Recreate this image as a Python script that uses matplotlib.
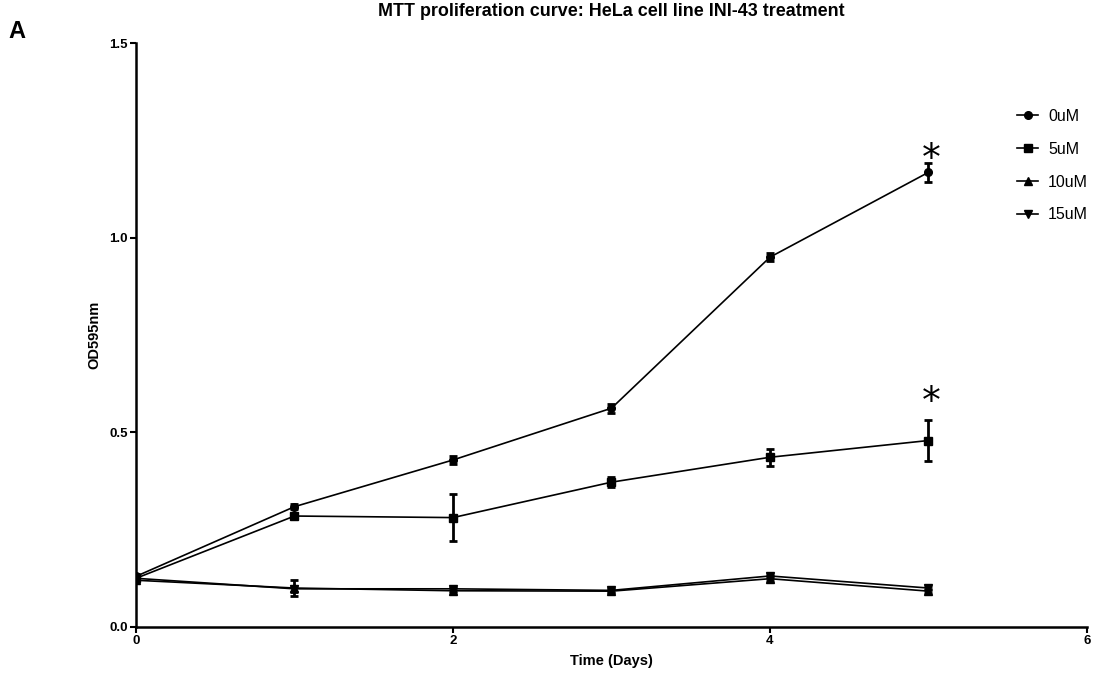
import matplotlib
matplotlib.use("Agg")
import matplotlib.pyplot as plt
from matplotlib.lines import Line2D

plt.rcParams['font.family'] = ['Liberation Sans', 'DejaVu Sans']

days = [0, 1, 2, 3, 4, 5]
labels = ["0uM", "5uM", "10uM", "15uM"]
markers = ["o", "s", "^", "v"]
od_0uM = [0.130, 0.309, 0.429, 0.562, 0.950, 1.168]
err_0uM = [0.005, 0.006, 0.010, 0.012, 0.010, 0.024]
od_5uM = [0.125, 0.285, 0.281, 0.372, 0.436, 0.479]
err_5uM = [0.005, 0.006, 0.060, 0.012, 0.022, 0.053]
od_10uM = [0.120, 0.100, 0.093, 0.092, 0.124, 0.092]
err_10uM = [0.004, 0.020, 0.006, 0.005, 0.006, 0.006]
od_15uM = [0.125, 0.098, 0.098, 0.094, 0.131, 0.100]
err_15uM = [0.004, 0.008, 0.005, 0.005, 0.006, 0.006]
star_points = [(5.02, 1.20), (5.02, 0.576)]

series = [od_0uM, od_5uM, od_10uM, od_15uM]
errs = [err_0uM, err_5uM, err_10uM, err_15uM]

fig = plt.figure(figsize=(10.94, 6.73), dpi=100)
ax = fig.add_axes([0.1243, 0.0684, 0.9936 - 0.1243, 0.936 - 0.0684])

handles = []
for y, e, m, lab in zip(series, errs, markers, labels):
    ax.errorbar(days, y, yerr=e, color='black', marker=m, markersize=5.5,
                linewidth=1.2, elinewidth=2, capsize=3, capthick=2)
    handles.append(Line2D([], [], color='black', marker=m, markersize=5.5,
                          linewidth=1.2, label=lab))

for sx, sy in star_points:
    ax.text(sx, sy, "*", fontsize=27, ha='center', va='center', family='DejaVu Sans')

ax.set_xlim(0, 6)
ax.set_ylim(0, 1.5)
ax.set_xticks([0, 2, 4, 6])
ax.set_yticks([0, 0.5, 1.0, 1.5])
ax.set_yticklabels(["0.0", "0.5", "1.0", "1.5"])
for s in ['top', 'right']:
    ax.spines[s].set_visible(False)
for s in ['left', 'bottom']:
    ax.spines[s].set_linewidth(1.8)
ax.tick_params(axis='both', length=4, width=1.5, labelsize=9.5, pad=2)
for t in ax.get_xticklabels() + ax.get_yticklabels():
    t.set_fontweight('bold')

fig.text(0.559, 1 - 12 / 673, "MTT proliferation curve: HeLa cell line INI-43 treatment",
         fontsize=12.9, fontweight='bold', ha='center', va='center')
ax.set_xlabel("Time (Days)", fontsize=10.5, fontweight='bold')
ax.set_ylabel("OD595nm", fontsize=10.5, fontweight='bold')
ax.xaxis.set_label_coords(0.5, -0.046)
ax.yaxis.set_label_coords(-0.0368, 0.5)

fig.text(0.008, 1 - 31 / 673, "A", fontsize=17, fontweight='bold', ha='left', va='center')

leg = ax.legend(handles=handles, loc='upper left', bbox_to_anchor=(0.9116, 0.912),
                frameon=False, fontsize=11.5, handlelength=1.3,
                labelspacing=1.12, handletextpad=0.63)

fig.savefig("out.png", dpi=100)
